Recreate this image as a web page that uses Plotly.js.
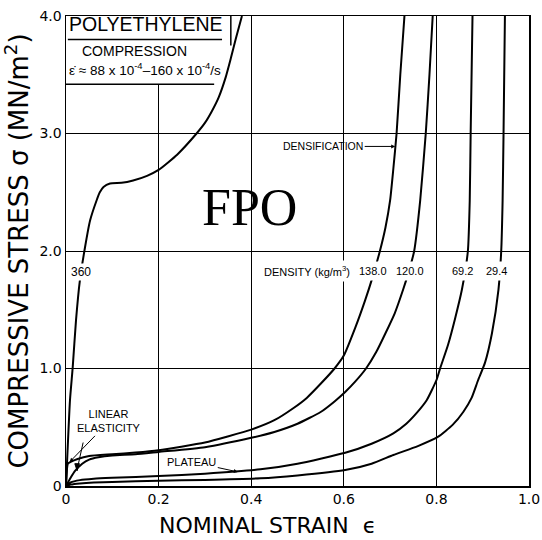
<!DOCTYPE html>
<html>
<head>
<meta charset="utf-8">
<script src="https://cdn.plot.ly/plotly-3.0.1.min.js"></script>
<style>html,body{margin:0;padding:0;background:#fff;}#chart{width:542px;height:540px;}</style>
</head>
<body>
<div id="chart"></div>
<script>
// Density 360 kg/m3
const strain360 = [0, 0.0086, 0.0145, 0.0216, 0.03, 0.041, 0.052, 0.066, 0.073, 0.081, 0.095, 0.12, 0.145, 0.175, 0.2, 0.24, 0.282, 0.30, 0.315, 0.33, 0.345, 0.356, 0.367, 0.38];
const stress360 = [0, 0.73, 1.01, 1.41, 1.75, 2.03, 2.26, 2.43, 2.50, 2.545, 2.575, 2.58, 2.60, 2.64, 2.69, 2.82, 3.0, 3.09, 3.19, 3.31, 3.48, 3.64, 3.81, 4.0];
// Density 138.0
const strain138 = [0, 0.004, 0.01, 0.025, 0.05, 0.1, 0.15, 0.2, 0.3, 0.4, 0.45, 0.49, 0.52, 0.55, 0.58, 0.6, 0.625, 0.646, 0.66, 0.678, 0.69, 0.70, 0.707, 0.714, 0.722, 0.731];
const stress138 = [0, 0.19, 0.205, 0.23, 0.255, 0.27, 0.285, 0.305, 0.37, 0.48, 0.56, 0.66, 0.75, 0.87, 1.0, 1.11, 1.35, 1.58, 1.75, 2.0, 2.2, 2.43, 2.7, 3.0, 3.5, 4.0];
// Density 120.0
const strain120 = [0, 0.01, 0.02, 0.035, 0.05, 0.07, 0.1, 0.15, 0.2, 0.3, 0.4, 0.45, 0.5, 0.55, 0.58, 0.603, 0.625, 0.648, 0.67, 0.69, 0.71, 0.728, 0.74, 0.752, 0.765, 0.777, 0.785, 0.792];
const stress120 = [0, 0.07, 0.13, 0.19, 0.225, 0.245, 0.26, 0.27, 0.29, 0.33, 0.41, 0.46, 0.53, 0.63, 0.72, 0.80, 0.89, 1.0, 1.14, 1.3, 1.47, 1.67, 1.82, 2.0, 2.43, 3.0, 3.5, 4.0];
// Density 69.2
const strain69 = [0, 0.01, 0.03, 0.06, 0.1, 0.2, 0.3, 0.42, 0.5, 0.603, 0.66, 0.707, 0.735, 0.757, 0.779, 0.80, 0.808, 0.825, 0.84, 0.855, 0.868, 0.872, 0.874, 0.878];
const stress69 = [0, 0.03, 0.05, 0.062, 0.07, 0.085, 0.105, 0.142, 0.19, 0.283, 0.36, 0.448, 0.53, 0.62, 0.73, 0.90, 1.0, 1.2, 1.42, 1.67, 2.0, 2.43, 3.0, 4.0];
// Density 29.4
const strain29 = [0, 0.01, 0.03, 0.06, 0.1, 0.2, 0.3, 0.42, 0.5, 0.603, 0.66, 0.707, 0.76, 0.804, 0.835, 0.858, 0.876, 0.89, 0.905, 0.92, 0.934, 0.94, 0.943, 0.945, 0.948];
const stress29 = [0, 0.012, 0.022, 0.03, 0.035, 0.045, 0.052, 0.065, 0.09, 0.136, 0.19, 0.264, 0.34, 0.42, 0.52, 0.63, 0.75, 0.9, 1.05, 1.3, 1.67, 2.0, 2.43, 3.0, 4.0];

const densityLabels = ['360', '138.0', '120.0', '69.2', '29.4'];
const xTickVals = [0, 0.2, 0.4, 0.6, 0.8, 1.0];
const xTickText = ['0', '0.2', '0.4', '0.6', '0.8', '1.0'];
const yTickVals = [0, 1, 2, 3, 4];
const yTickText = ['0', '1.0', '2.0', '3.0', '4.0'];

const series = [
  [strain360, stress360], [strain138, stress138], [strain120, stress120],
  [strain69, stress69], [strain29, stress29]
];
const traces = series.map((s, i) => ({
  x: s[0], y: s[1], type: 'scatter', mode: 'lines',
  name: densityLabels[i],
  line: {color: '#000', width: 2, shape: 'spline', smoothing: 0.5},
  hoverinfo: 'skip', showlegend: false
}));

const sans = 'Liberation Sans, Arial, sans-serif';
const lab = {family: sans, size: 11, color: '#000'};
const NB = '\u00a0';

const annotations = [
  {x: 0.0324, y: 1.82, text: densityLabels[0], showarrow: false, font: {family: sans, size: 12, color: '#000'}, bgcolor: '#fff', borderpad: 1},
  {x: 0.521, y: 1.83, text: 'DENSITY (kg/m<sup>3</sup>)', showarrow: false, font: lab, bgcolor: '#fff', borderpad: 3},
  {x: 0.663, y: 1.83, text: densityLabels[1], showarrow: false, font: lab, bgcolor: '#fff', borderpad: 3},
  {x: 0.742, y: 1.83, text: densityLabels[2], showarrow: false, font: lab, bgcolor: '#fff', borderpad: 3},
  {x: 0.856, y: 1.83, text: densityLabels[3], showarrow: false, font: lab, bgcolor: '#fff', borderpad: 3},
  {x: 0.929, y: 1.83, text: densityLabels[4], showarrow: false, font: lab, bgcolor: '#fff', borderpad: 3},
  {x: 0.711, y: 2.89, text: 'DENSIFICATION', showarrow: true, ax: -72, ay: 0,
   arrowhead: 2, arrowsize: 0.8, arrowwidth: 1, arrowcolor: '#000', font: {family: sans, size: 10.5, color: '#000'}},
  {x: 0.371, y: 0.12, text: 'PLATEAU', showarrow: true, ax: -46, ay: -10,
   arrowhead: 2, arrowsize: 0.8, arrowwidth: 1, arrowcolor: '#000', font: lab},
  {x: 0.008, y: 0.205, text: 'LINEAR<br>ELASTICITY', showarrow: true, ax: 0.093, ay: 0.55, axref: 'x', ayref: 'y',
   arrowhead: 2, arrowsize: 0.8, arrowwidth: 1, arrowcolor: '#000', font: lab, align: 'center'},
  {x: 0.397, y: 2.37, text: 'FPO', showarrow: false, font: {family: 'Liberation Serif, Times New Roman, serif', size: 52, color: '#000'}},
  {x: 0.003, y: 3.93, xanchor: 'left', yanchor: 'middle', text: 'POLYETHYLENE', showarrow: false, font: {family: sans, size: 19.5, color: '#000'}},
  {x: 0.030, y: 3.70, xanchor: 'left', yanchor: 'middle', text: 'COMPRESSION', showarrow: false, font: {family: sans, size: 14, color: '#000'}},
  {x: 0.003, y: 3.55, xanchor: 'left', yanchor: 'middle', text: 'ε̇' + NB + '≈' + NB + '88' + NB + 'x' + NB + '10<sup>-4</sup>–160' + NB + 'x' + NB + '10<sup>-4</sup>/s', showarrow: false, font: {family: sans, size: 13.5, color: '#000'}},
  // x-axis title (placed as annotation so it sits left of centre like the reference)
  {xref: 'paper', yref: 'paper', x: 0.436, y: -0.085, xanchor: 'center', yanchor: 'middle', text: 'NOMINAL STRAIN' + NB + NB + 'ϵ', showarrow: false,
   font: {family: 'DejaVu Sans, sans-serif', size: 22, color: '#000'}}
];

const shapes = [
  {type: 'rect', xref: 'x', yref: 'y', x0: 0, x1: 0.32, y0: 3.42, y1: 4.0, fillcolor: '#fff', line: {width: 0}, layer: 'between'},
  {type: 'line', xref: 'x', yref: 'y', x0: 0, x1: 0.32, y0: 3.42, y1: 3.42, line: {color: '#000', width: 1.5}},
  {type: 'line', xref: 'x', yref: 'y', x0: 0.004, x1: 0.337, y0: 3.80, y1: 3.80, line: {color: '#000', width: 1.5}},
  {type: 'line', xref: 'x', yref: 'y', x0: 0.356, x1: 0.356, y0: 3.75, y1: 4.0, line: {color: '#000', width: 1.5}},
  // second linear-elasticity pointer
  {type: 'path', xref: 'x', yref: 'y', path: 'M 0.037,0.37 L 0.024,0.14', line: {color: '#000', width: 1}},
  {type: 'path', xref: 'x', yref: 'y', path: 'M 0.024,0.13 L 0.019,0.19 L 0.029,0.19 Z', fillcolor: '#000', line: {color: '#000', width: 1}}
];

const layout = {
  width: 542, height: 540,
  margin: {l: 66, r: 13, t: 16, b: 54},
  paper_bgcolor: '#fff', plot_bgcolor: '#fff',
  showlegend: false,
  xaxis: {
    range: [0, 1], tickvals: xTickVals, ticktext: xTickText, ticks: '',
    showgrid: true, gridcolor: '#000', gridwidth: 1, zeroline: false,
    showline: true, linecolor: '#000', linewidth: 1.5, mirror: true,
    tickfont: {family: 'DejaVu Sans, sans-serif', size: 14, color: '#000'}
  },
  yaxis: {
    range: [0, 4], tickvals: yTickVals, ticktext: yTickText, ticks: '',
    showgrid: true, gridcolor: '#000', gridwidth: 1, zeroline: false,
    showline: true, linecolor: '#000', linewidth: 1.5, mirror: true,
    tickfont: {family: 'DejaVu Sans, sans-serif', size: 14, color: '#000'},
    title: {text: 'COMPRESSIVE STRESS σ (MN/m<sup>2</sup>)', font: {family: 'DejaVu Sans, sans-serif', size: 26, color: '#000'}, standoff: 8}
  },
  annotations: annotations,
  shapes: shapes
};

Plotly.newPlot('chart', traces, layout, {displayModeBar: false, staticPlot: true});
</script>
</body>
</html>
